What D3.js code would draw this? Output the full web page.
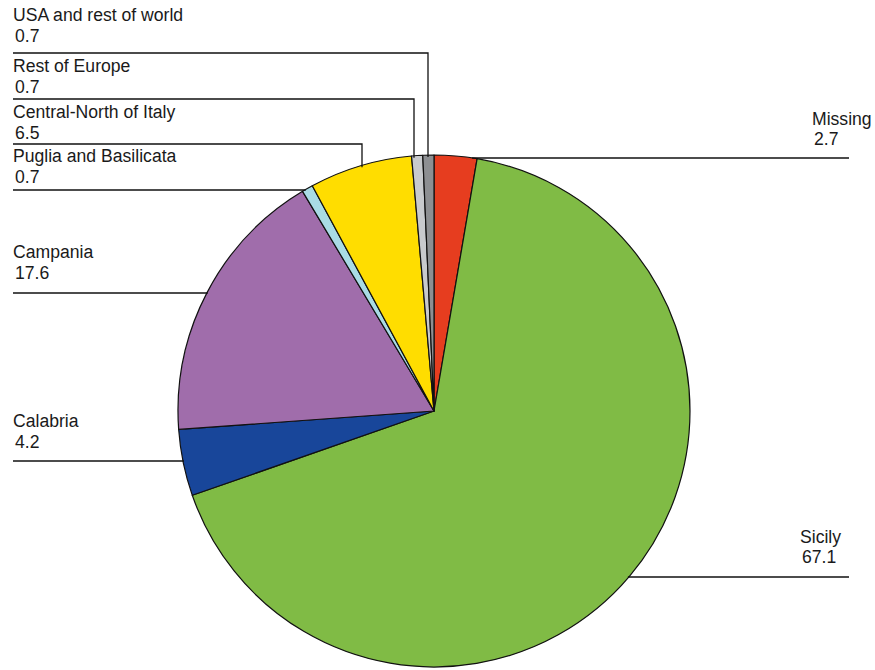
<!DOCTYPE html>
<html><head><meta charset="utf-8">
<script src="https://cdn.jsdelivr.net/npm/d3@7"></script>
<style>body{margin:0;background:#fff}svg{display:block}text{font-family:"Liberation Sans",Arial,sans-serif;font-size:17.6px;fill:#1a1a1a}</style>
</head><body>
<svg id="c" width="875" height="670"></svg>
<script>
const categories = ["Missing","Sicily","Calabria","Campania","Puglia and Basilicata","Central-North of Italy","Rest of Europe","USA and rest of world"];
const values = [2.7, 67.1, 4.2, 17.6, 0.7, 6.5, 0.7, 0.7];
const colors = ["#e63d1f","#80bb45","#18469a","#a06dab","#a9dbe5","#ffdd00","#c8cacd","#8d8f92"];

const W = 875, H = 670, cx = 434, cy = 411, R = 256;
// label layout: side, text x, baseline y of name, leader y, (vertical leader x)
const layout = [
  {side:"right", tx:812, ty:125, ly:158},
  {side:"right", tx:800, ty:543, ly:577},
  {side:"left",  tx:13,  ty:427, ly:461},
  {side:"left",  tx:13,  ty:258, ly:293},
  {side:"left",  tx:13,  ty:162, ly:190},
  {side:"left",  tx:13,  ty:118, ly:144, vx:362},
  {side:"left",  tx:13,  ty:72,  ly:99,  vx:414},
  {side:"left",  tx:13,  ty:21,  ly:53,  vx:428}
];

const svg = d3.select("#c");
const g = svg.append("g").attr("transform", `translate(${cx},${cy})`);
const pie = d3.pie().sort(null).value(d => d.v).startAngle(0).endAngle(2*Math.PI);
const data = categories.map((c,i)=>({c, v:values[i], col:colors[i], i}));
const arcs = pie(data);
const arc = d3.arc().innerRadius(0).outerRadius(R);
g.selectAll("path").data(arcs).join("path")
  .attr("d", arc).attr("fill", d=>d.data.col)
  .attr("stroke","#111").attr("stroke-width",1.2).attr("stroke-linejoin","round");

const lines = svg.append("g").attr("stroke","#111").attr("stroke-width",1.3).attr("fill","none");
arcs.forEach((a,i)=>{
  const L = layout[i];
  const mid = (a.startAngle + a.endAngle)/2;
  let pts;
  if (L.vx !== undefined) {
    const ey = cy - Math.sqrt(R*R - (L.vx-cx)*(L.vx-cx));
    pts = [[L.tx, L.ly],[L.vx, L.ly],[L.vx, ey+2]];
  } else if (L.side === "left") {
    const ex = cx - Math.sqrt(R*R - (cy-L.ly)*(cy-L.ly));
    pts = [[L.tx, L.ly],[ex+1, L.ly]];
  } else {
    let sx;
    if (Math.abs(cy-L.ly) >= R-1) sx = cx + R*Math.sin(mid);
    else sx = cx + Math.sqrt(R*R - (cy-L.ly)*(cy-L.ly));
    pts = [[sx-1, L.ly],[849, L.ly]];
  }
  lines.append("path").attr("d", d3.line()(pts));
  svg.append("text").attr("x", L.tx).attr("y", L.ty).text(a.data.c);
  svg.append("text").attr("x", L.tx+2).attr("y", L.ty + (L.side==="right"?20:21)).text(d3.format(".1f")(a.data.v));
});
</script>
</body></html>
